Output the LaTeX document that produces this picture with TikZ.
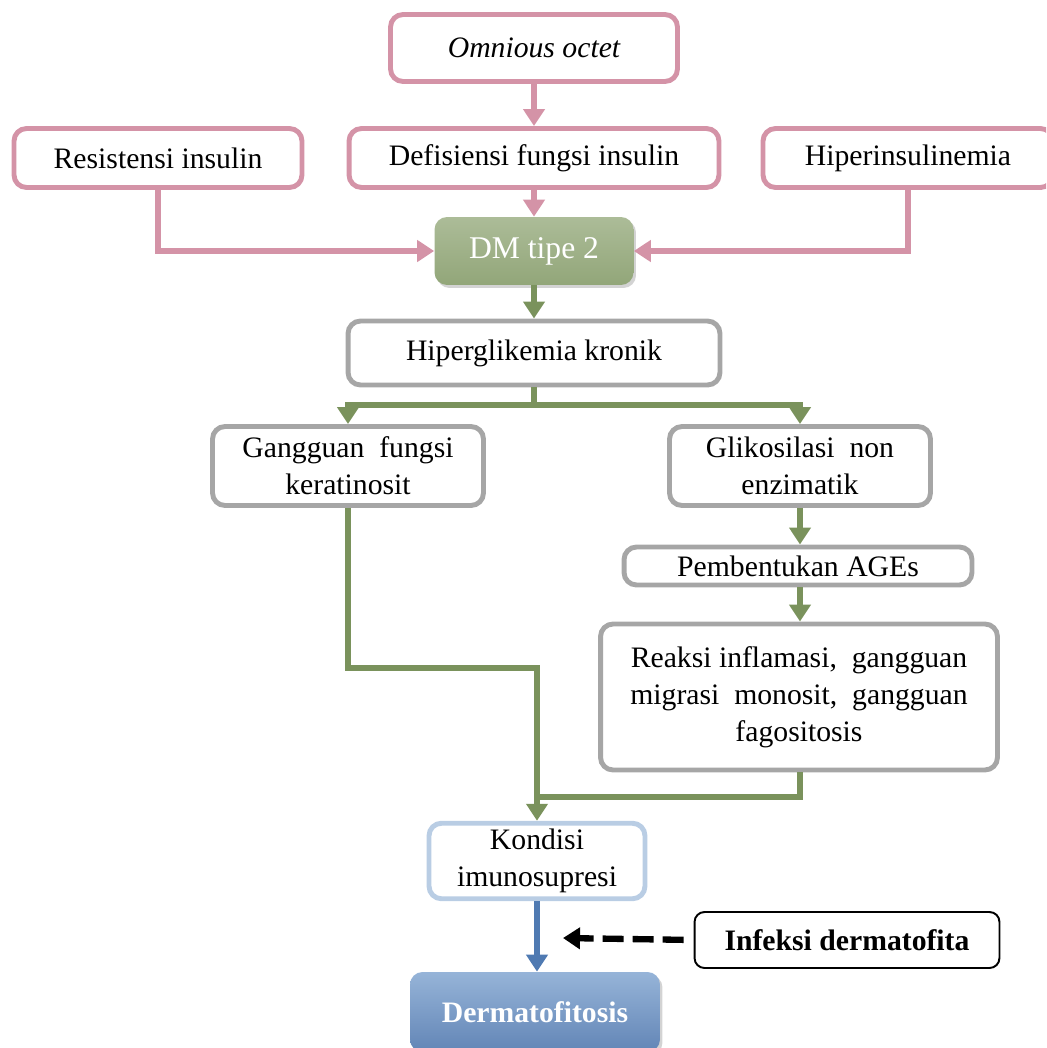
\documentclass[tikz,border=0pt]{standalone}
\usepackage{fontspec}
\setmainfont{Liberation Serif}
\usetikzlibrary{arrows.meta,shadows}
\definecolor{pinkline}{RGB}{212,147,167}
\definecolor{greenline}{RGB}{122,146,92}
\definecolor{grayline}{RGB}{166,166,166}
\definecolor{blueline}{RGB}{185,205,228}
\definecolor{bluearrow}{RGB}{79,122,178}

\begin{document}
\begin{tikzpicture}[x=0.02cm, y=-0.02cm, every node/.style={font=\fontsize{16.9}{21}\selectfont}, >={Triangle[length=0.34cm,width=0.42cm]},
	pinkbox/.style={draw=pinkline, line width=2.8pt, rounded corners=0.25cm, fill=white, align=center},
	graybox/.style={draw=grayline, line width=2.8pt, rounded corners=0.25cm, fill=white, align=center},
	pinkarrow/.style={->, draw=pinkline, line width=3pt, color=pinkline},
	greenarrow/.style={->, draw=greenline, line width=3pt, color=greenline}]
	\clip (0,0) rectangle (1046,1048);
	\node[pinkbox, minimum width=5.74cm, minimum height=1.34cm] (omni) at (534,48) {\itshape Omnious octet};
	\node[pinkbox, minimum width=5.76cm, minimum height=1.18cm] (resist) at (158,158) {Resistensi\ insulin};
	\node[pinkbox, minimum width=7.4cm, minimum height=1.18cm] (defis) at (534,158) {Defisiensi\ fungsi\ insulin};
	\node[pinkbox, minimum width=5.8cm, minimum height=1.18cm] (hiper) at (908,158) {Hiperinsulinemia};
	\node[rounded corners=0.25cm, top color={rgb,255:red,172;green,188;blue,152}, bottom color={rgb,255:red,146;green,166;blue,121}, drop shadow={opacity=0.35, shadow xshift=0.05cm, shadow yshift=-0.06cm}, text=white, font=\fontsize{18}{22}\selectfont, minimum width=3.98cm, minimum height=1.36cm] (dm) at (534,251) {DM tipe 2};
	\node[graybox, minimum width=7.44cm, minimum height=1.28cm] (hgk) at (534,353) {Hiperglikemia\ kronik};
	\node[graybox, minimum width=5.42cm, minimum height=1.58cm] (gang) at (348,466) {Gangguan\ \ fungsi\\keratinosit};
	\node[graybox, minimum width=5.22cm, minimum height=1.58cm] (glik) at (800,466) {Glikosilasi\ \ non\\enzimatik};
	\node[graybox, minimum width=6.96cm, minimum height=0.76cm] (ages) at (798,566) {Pembentukan AGEs};
	\node[graybox, minimum width=7.94cm, minimum height=2.92cm] (reaksi) at (799,697) {Reaksi\ inflamasi,\ \ gangguan\\migrasi\ \ monosit,\ \ gangguan\\fagositosis};
	\node[draw=blueline, line width=2.8pt, rounded corners=0.25cm, fill=white, align=center, minimum width=4.32cm, minimum height=1.44cm] (kondisi) at (537,861) {Kondisi\\imunosupresi};
	\node[draw=black, line width=1.1pt, rounded corners=0.2cm, fill=white, font=\fontsize{16.9}{21}\selectfont\bfseries, minimum width=6.1cm, minimum height=1.12cm] (infeksi) at (847,940) {Infeksi dermatofita};
	\node[rounded corners=0.25cm, top color={rgb,255:red,150;green,180;blue,216}, bottom color={rgb,255:red,98;green,133;blue,182}, drop shadow={opacity=0.35, shadow xshift=0.05cm, shadow yshift=-0.06cm}, text=white, font=\fontsize{16.9}{21}\selectfont\bfseries, minimum width=5cm, minimum height=1.6cm] (derm) at (535,1012) {Dermatofitosis};
	\coordinate (split) at (534,405);
	\coordinate (merge) at (537,797);
	\coordinate (hit) at (563,938);
	\draw[pinkarrow] (omni) -- (defis);
	\draw[pinkarrow] (defis) -- (dm);
	\draw[pinkarrow] (resist.south) |- (dm.west);
	\draw[pinkarrow] (hiper.south) |- (dm.east);
	\draw[greenarrow] (dm) -- (hgk);
	\draw[greenline, line width=3pt] (hgk.south) -- (split);
	\draw[greenarrow] (split) -| (gang.north);
	\draw[greenarrow] (split) -| (glik.north);
	\draw[greenarrow] (glik) -- (glik |- ages.north);
	\draw[greenarrow] (glik |- ages.south) -- (glik |- reaksi.north);
	\draw[greenarrow] (gang.south) -- ++(0,160) -| (kondisi.north);
	\draw[greenline, line width=3pt] (glik |- reaksi.south) |- (merge);
	\draw[->, bluearrow, line width=3pt] (kondisi.south) -- (kondisi.south |- derm.north);
	\draw[->, black, line width=3.6pt, dash pattern=on 0.42cm off 0.18cm, shorten <=0.2cm] (infeksi.west) -- (hit);
\end{tikzpicture}
\end{document}
